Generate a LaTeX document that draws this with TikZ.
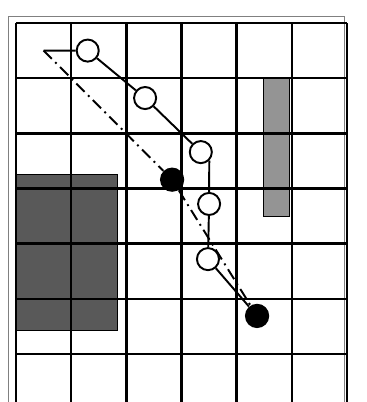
\documentclass[tikz,border=0pt]{standalone}
\usepackage{tikz}
\usetikzlibrary{positioning}
\tikzstyle{gridline} = [line width=1.3pt, black]
\tikzstyle{frameline} = [line width=0.5pt, gray]
\tikzstyle{waypoint} = [circle, draw=black, fill=white, line width=1pt, minimum size=0.4cm, inner sep=0pt]
\tikzstyle{endpoint} = [circle, fill=black, minimum size=0.44cm, inner sep=0pt]
\tikzstyle{route} = [line width=1pt]
\tikzstyle{straight} = [line width=1pt, dash pattern=on 6pt off 2.5pt on 1pt off 2.5pt]

\begin{document}
\begin{tikzpicture}
  \useasboundingbox (-0.29,0.417) rectangle (6.36,-6.87);
  % outer frame
  \draw[frameline] (-0.145,-6.9) -- (-0.145,0.127) -- (5.96,0.127) -- (5.96,-6.9);
  % obstacles
  \fill[black!65, draw=black] (0,-2.75) rectangle (1.83,-5.58);
  \fill[black!42, draw=black] (4.49,-1) rectangle (4.96,-3.5);
  % grid
  \foreach \x in {0,...,6}
    \draw[gridline] (\x,0) -- (\x,-6.9);
  \foreach \y in {0,...,6}
    \draw[gridline] (0,-\y) -- (6,-\y);

  % points
  \coordinate (start) at (0.5,-0.5);
  \node[waypoint] (w1) at (1.3,-0.5) {};
  \node[waypoint] (w2) at (2.34,-1.36) {};
  \node[waypoint] (w3) at (3.35,-2.34) {};
  \node[waypoint] (w4) at (3.5,-3.28) {};
  \node[waypoint] (w5) at (3.48,-4.28) {};
  \node[endpoint] (mid) at (2.83,-2.84) {};
  \node[endpoint] (goal) at (4.37,-5.31) {};

  % straight-line path
  \draw[straight] (start) -- (mid) -- (goal);
  % planned route
  \draw[route] (start) -- (w1) -- (w2) -- (w3);
  \draw[route] (w3.south east) -- (w4.north);
  \draw[route] (w4) -- (w5) -- (goal);
\end{tikzpicture}
\end{document}
